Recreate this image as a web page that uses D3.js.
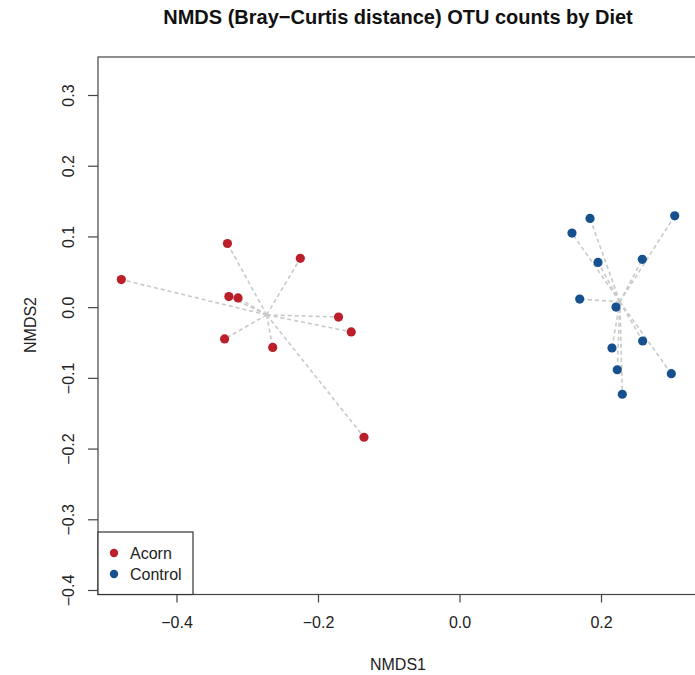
<!DOCTYPE html>
<html>
<head>
<meta charset="utf-8">
<script src="https://cdn.jsdelivr.net/npm/d3@7"></script>
<style>
  html, body { margin: 0; padding: 0; background: #fff; }
  svg { display: block; font-family: "Liberation Sans", Arial, sans-serif; }
</style>
</head>
<body>
<svg id="chart" width="695" height="675"></svg>
<script>
// NMDS site scores per diet group
const acornX = [-0.328, -0.225, -0.478, -0.326, -0.313, -0.171, -0.153, -0.332, -0.264, -0.135];
const acornY = [0.090, 0.069, 0.039, 0.015, 0.013, -0.014, -0.035, -0.045, -0.057, -0.184];
const controlX = [0.1845, 0.3042, 0.159, 0.1958, 0.2584, 0.1699, 0.2212, 0.2589, 0.2155, 0.2994, 0.2230, 0.2301];
const controlY = [0.1255, 0.1292, 0.1047, 0.0633, 0.0676, 0.0114, 0.0001, -0.0479, -0.0578, -0.0941, -0.0885, -0.1232];
const groups = ["Acorn", "Control"];
const groupColors = ["#bb1f2a", "#16508f"];
const xTicks = [-0.4, -0.2, 0.0, 0.2];
const yTicks = [0.3, 0.2, 0.1, 0.0, -0.1, -0.2, -0.3, -0.4];

const svg = d3.select("#chart");
const box = { left: 98, right: 698, top: 57, bottom: 594.5 };
const labelSize = 16;

const x = d3.scaleLinear().domain([-0.4, 0.2]).range([176.5, 601]);
const y = d3.scaleLinear().domain([-0.4, 0.3]).range([590, 95]);

const series = [
  { name: groups[0], color: groupColors[0], pts: acornX.map((v, i) => [v, acornY[i]]) },
  { name: groups[1], color: groupColors[1], pts: controlX.map((v, i) => [v, controlY[i]]) }
];

// spider lines from each group centroid
series.forEach(s => {
  const cx = d3.mean(s.pts, d => d[0]);
  const cy = d3.mean(s.pts, d => d[1]);
  svg.append("g").selectAll("line").data(s.pts).join("line")
    .attr("x1", x(cx)).attr("y1", y(cy))
    .attr("x2", d => x(d[0])).attr("y2", d => y(d[1]))
    .attr("stroke", "#c9c9c9").attr("stroke-width", 1.6)
    .attr("stroke-dasharray", "4,3");
});

// points
series.forEach(s => {
  svg.append("g").selectAll("circle").data(s.pts).join("circle")
    .attr("cx", d => x(d[0])).attr("cy", d => y(d[1]))
    .attr("r", 4.6).attr("fill", s.color);
});

// frame
svg.append("rect")
  .attr("x", box.left).attr("y", box.top)
  .attr("width", box.right - box.left).attr("height", box.bottom - box.top)
  .attr("fill", "none").attr("stroke", "#444").attr("stroke-width", 1.2);

// x axis
const xAxis = d3.axisBottom(x).tickValues(xTicks).tickSize(8).tickPadding(14)
  .tickFormat(d => d3.format(".1f")(d).replace("-", "\u2212"));
const gx = svg.append("g").attr("transform", `translate(0,${box.bottom})`).call(xAxis);
gx.select(".domain").remove();
gx.selectAll("line").attr("stroke", "#444").attr("stroke-width", 1.2);
gx.selectAll("text").attr("font-size", labelSize).attr("fill", "#222");

// y axis with rotated labels
const yAxis = d3.axisLeft(y).tickValues(yTicks).tickSize(10).tickPadding(0)
  .tickFormat(d => d3.format(".1f")(d).replace("-", "\u2212"));
const gy = svg.append("g").attr("transform", `translate(${box.left},0)`).call(yAxis);
gy.select(".domain").remove();
gy.selectAll("line").attr("stroke", "#444").attr("stroke-width", 1.2);
gy.selectAll("text")
  .attr("font-size", labelSize).attr("fill", "#222")
  .attr("text-anchor", "middle").attr("dy", null).attr("x", null)
  .attr("transform", "translate(-30,0) rotate(-90)")
  .attr("dominant-baseline", "central");

// legend
const lg = svg.append("g");
lg.append("rect")
  .attr("x", box.left).attr("y", 532)
  .attr("width", 193 - box.left).attr("height", box.bottom - 532)
  .attr("fill", "#fff").attr("stroke", "#333").attr("stroke-width", 1.2);
series.forEach((s, i) => {
  const ly = 553 + i * 21;
  lg.append("circle").attr("cx", 114).attr("cy", ly).attr("r", 4.2).attr("fill", s.color);
  lg.append("text").attr("x", 130).attr("y", ly).attr("dominant-baseline", "central")
    .attr("font-size", labelSize).attr("fill", "#222").text(s.name);
});

// titles
svg.append("text").attr("x", 398).attr("y", 24).attr("text-anchor", "middle")
  .attr("font-size", 20).attr("font-weight", "bold").attr("fill", "#111")
  .text("NMDS (Bray\u2212Curtis distance) OTU counts by Diet");
svg.append("text").attr("x", 398).attr("y", 670).attr("text-anchor", "middle")
  .attr("font-size", labelSize).attr("fill", "#222").text("NMDS1");
svg.append("text").attr("transform", `translate(36,325) rotate(-90)`).attr("text-anchor", "middle")
  .attr("font-size", labelSize).attr("fill", "#222").text("NMDS2");
</script>
</body>
</html>
